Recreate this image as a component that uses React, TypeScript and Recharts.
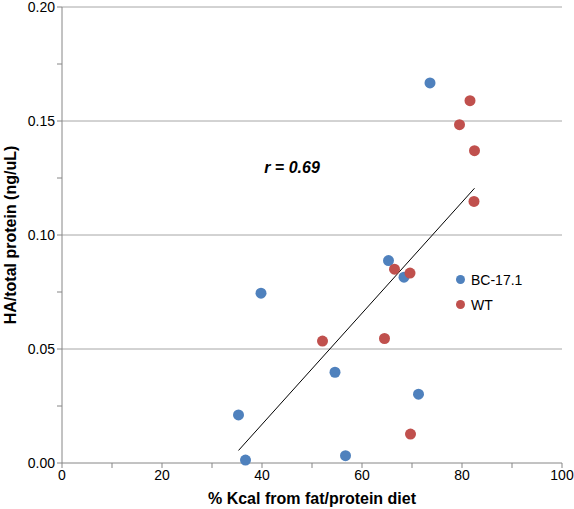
import React from "react";
import {
  ScatterChart,
  Scatter,
  XAxis,
  YAxis,
  CartesianGrid,
  ReferenceDot,
} from "recharts";

// BC-17.1 points: % kcal from fat/protein, HA/total protein
const bcX = [73.6, 65.3, 68.4, 39.8, 54.6, 71.3, 35.3, 36.7, 56.7];
const bcY = [0.1667, 0.0888, 0.0815, 0.0745, 0.0398, 0.0302, 0.0211, 0.0013, 0.0032];

// WT points
const wtX = [81.6, 79.5, 82.5, 82.4, 66.5, 69.6, 52.1, 64.5, 69.7];
const wtY = [0.1589, 0.1484, 0.137, 0.1147, 0.085, 0.0833, 0.0535, 0.0546, 0.0127];

// linear fit line ends
const fitX = [35.3, 82.5];
const fitY = [0.0055, 0.1205];

const xTicks = [0, 10, 20, 30, 40, 50, 60, 70, 80, 90, 100];
const yTicks = [0, 0.025, 0.05, 0.075, 0.1, 0.125, 0.15, 0.175, 0.2];
const gridValues = [0.05, 0.1, 0.15, 0.2];

const blue = "#4f81bd";
const red = "#c0504d";
const font = "'Liberation Sans', Arial, sans-serif";

const toPoints = (xs: number[], ys: number[]) => xs.map((x, i) => ({ x, y: ys[i] }));

const bcData = toPoints(bcX, bcY);
const wtData = toPoints(wtX, wtY);
const fitData = toPoints(fitX, fitY);

const legendItems = [
  { name: "BC-17.1", color: blue },
  { name: "WT", color: red },
];

export default function App() {
  return (
    <div style={{ position: "absolute", left: 0, top: 0, fontFamily: font }}>
      <ScatterChart
        width={574}
        height={509}
        margin={{ top: 7, right: 12, bottom: 0, left: 0 }}
      >
        <CartesianGrid
          vertical={false}
          horizontalValues={gridValues}
          stroke="#a6a6a6"
          strokeWidth={1}
        />
        <XAxis
          type="number"
          dataKey="x"
          domain={[0, 100]}
          ticks={xTicks}
          interval={0}
          height={46}
          tickSize={5}
          tickFormatter={(v: number) => (v % 20 === 0 ? String(v) : "")}
          tick={{ fill: "#000", fontSize: 14, fontFamily: font }}
          stroke="#868686"
          label={{
            value: "% Kcal from fat/protein diet",
            position: "insideBottom",
            offset: 5,
            fill: "#000",
            fontSize: 16,
            fontWeight: "bold",
            fontFamily: font,
          }}
        />
        <YAxis
          type="number"
          dataKey="y"
          domain={[0, 0.2]}
          ticks={yTicks}
          interval={0}
          width={62}
          tickSize={5}
          tickFormatter={(v: number) =>
            Math.abs(Math.round(v * 1000) % 50) === 0 ? v.toFixed(2) : ""
          }
          tick={{ fill: "#000", fontSize: 14, fontFamily: font }}
          stroke="#868686"
          label={{
            value: "HA/total protein (ng/uL)",
            angle: -90,
            position: "insideLeft",
            offset: 10,
            style: { textAnchor: "middle" },
            fill: "#000",
            fontSize: 16,
            fontWeight: "bold",
            fontFamily: font,
          }}
        />
        <Scatter
          data={fitData}
          line={{ stroke: "#000", strokeWidth: 1 }}
          shape={() => null}
          legendType="none"
          isAnimationActive={false}
        />
        <Scatter name="BC-17.1" data={bcData} fill={blue} isAnimationActive={false}
          shape={(p: any) => <circle cx={p.cx} cy={p.cy} r={5.5} fill={blue} />} />
        <Scatter name="WT" data={wtData} fill={red} isAnimationActive={false}
          shape={(p: any) => <circle cx={p.cx} cy={p.cy} r={5.5} fill={red} />} />
        <ReferenceDot
          x={46}
          y={0.1295}
          r={0}
          fill="none"
          stroke="none"
          label={{
            value: "r = 0.69",
            position: "center",
            fill: "#000",
            fontSize: 16,
            fontWeight: "bold",
            fontStyle: "italic",
            fontFamily: font,
          }}
        />
      </ScatterChart>
      <div
        style={{
          position: "absolute",
          left: 456,
          top: 267,
          fontFamily: font,
          fontSize: 14,
          color: "#000",
        }}
      >
        {legendItems.map((item) => (
          <div key={item.name} style={{ display: "flex", alignItems: "center", height: 25 }}>
            <span
              style={{
                display: "inline-block",
                width: 9,
                height: 9,
                borderRadius: "50%",
                background: item.color,
                marginRight: 6,
              }}
            />
            {item.name}
          </div>
        ))}
      </div>
    </div>
  );
}
